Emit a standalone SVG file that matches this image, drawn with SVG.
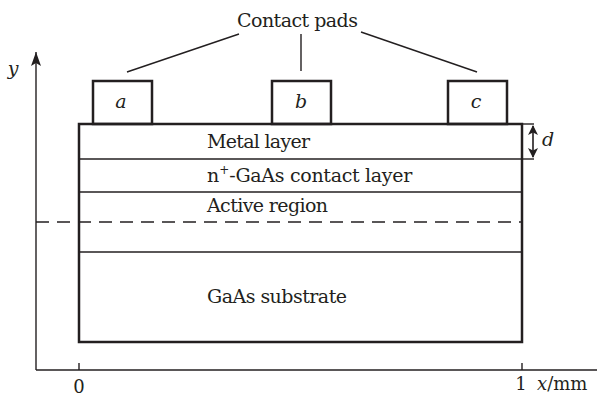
<svg xmlns="http://www.w3.org/2000/svg" width="597" height="400" viewBox="0 0 597 400">
<style>
.t{font-family:"DejaVu Serif","Liberation Serif",serif;fill:#231f20}
.i{font-style:italic}
.thick{fill:none;stroke:#231f20;stroke-width:2.5}
.thin{fill:none;stroke:#231f20;stroke-width:1.4}
</style>
<defs>
<marker id="ah" viewBox="0 0 10 10" refX="9" refY="5" markerWidth="10" markerHeight="10" markerUnits="userSpaceOnUse" orient="auto-start-reverse">
<path d="M0,0 L10,5 L0,10 L2.5,5 Z" fill="#231f20"/>
</marker>
<marker id="yh" viewBox="0 0 14 10" refX="14" refY="5" markerWidth="14" markerHeight="10" markerUnits="userSpaceOnUse" orient="auto">
<path d="M0,0 L14,5 L0,10 L3,5 Z" fill="#231f20"/>
</marker>
</defs>
<rect width="597" height="400" fill="#fff"/>
<g id="axes">
<line class="thin" x1="36" y1="370" x2="36" y2="52" marker-end="url(#yh)"/>
<line class="thin" x1="36" y1="370" x2="597" y2="370"/>
<line class="thin" x1="79" y1="363" x2="79" y2="370"/>
<line class="thin" x1="522" y1="363" x2="522" y2="370"/>
<text class="t i" x="13" y="75" font-size="19" text-anchor="middle">y</text>
<text class="t" x="79" y="393" font-size="18" text-anchor="middle">0</text>
<text class="t" x="521" y="390" font-size="18" text-anchor="middle">1</text>
<text class="t" x="537" y="390" font-size="18"><tspan class="i">x</tspan>/mm</text>
</g>
<g id="substrate">
<rect class="thick" x="79" y="124" width="443" height="218"/>
<line class="thin" x1="79" y1="252" x2="522" y2="252"/>
<text class="t" x="207" y="303" font-size="19" textLength="140">GaAs substrate</text>
</g>
<g id="active-region">
<line class="thin" x1="79" y1="192" x2="522" y2="192"/>
<text class="t" x="207" y="212" font-size="19" textLength="121">Active region</text>
</g>
<g id="contact-layer">
<line class="thin" x1="79" y1="159" x2="522" y2="159"/>
<text class="t" x="207" y="182" font-size="19">n<tspan font-size="12" dy="-8">+</tspan><tspan dy="8" textLength="183">-GaAs contact layer</tspan></text>
</g>
<g id="metal-layer">
<text class="t" x="207" y="148" font-size="19" textLength="103">Metal layer</text>
</g>
<g id="pad-a">
<rect class="thick" x="93" y="81" width="59" height="43"/>
<text class="t i" x="121" y="108" font-size="19" text-anchor="middle">a</text>
</g>
<g id="pad-b">
<rect class="thick" x="272" y="81" width="59" height="43"/>
<text class="t i" x="301" y="108" font-size="19" text-anchor="middle">b</text>
</g>
<g id="pad-c">
<rect class="thick" x="448" y="81" width="59" height="43"/>
<text class="t i" x="476" y="108" font-size="19" text-anchor="middle">c</text>
</g>
<g id="contact-pads-label">
<text class="t" x="237" y="27" font-size="19" textLength="121">Contact pads</text>
</g>
<g id="connectors">
<line class="thin" x1="127" y1="72" x2="239" y2="34"/>
<line class="thin" x1="301" y1="34" x2="301" y2="71"/>
<line class="thin" x1="361" y1="32" x2="477" y2="72"/>
<line x1="36" y1="222" x2="522" y2="222" stroke="#231f20" stroke-width="1.4" stroke-dasharray="13 8"/>
<line class="thin" x1="522" y1="124" x2="534" y2="124"/>
<line class="thin" x1="522" y1="159" x2="534" y2="159"/>
<line x1="533" y1="126" x2="533" y2="157" stroke="#231f20" stroke-width="1.6" marker-start="url(#ah)" marker-end="url(#ah)"/>
<text class="t i" x="542" y="146" font-size="19">d</text>
</g>
</svg>
